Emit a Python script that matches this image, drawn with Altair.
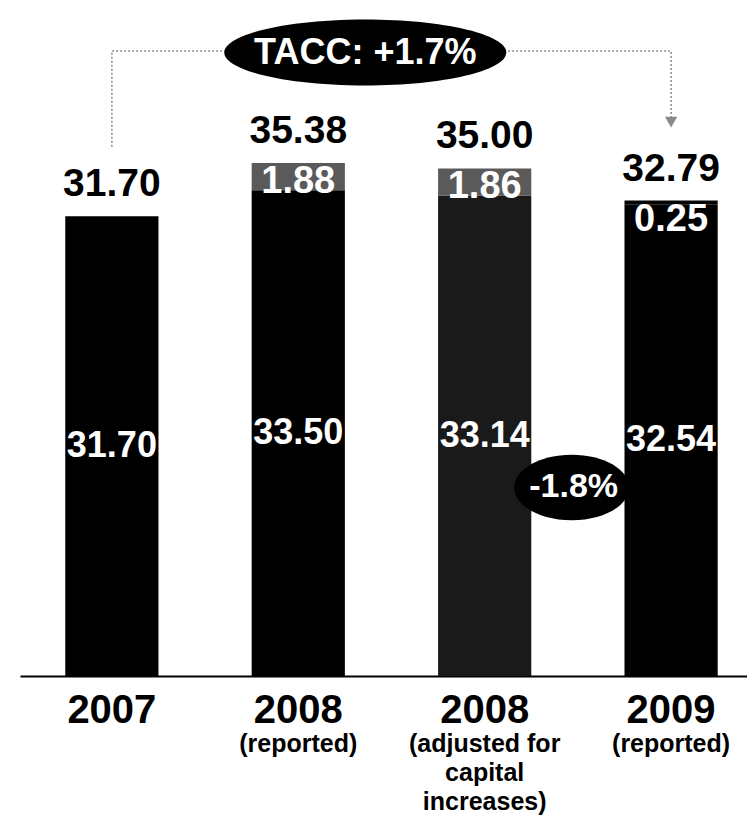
import altair as alt
import pandas as pd

# ---- data ----
cats = ["2007", "2008r", "2008a", "2009r"]
subtitles = ["", "(reported)", "(adjusted for\ncapital\nincreases)", "(reported)"]
base_vals = [31.70, 33.50, 33.14, 32.54]
top_vals = [0.0, 1.88, 1.86, 0.25]
totals = [31.70, 35.38, 35.00, 32.79]
base_colors = ["#000000", "#000000", "#1a1a1a", "#000000"]
top_colors = ["#000000", "#5a5a5a", "#5a5a5a", "#050505"]

tacc_label = "TACC: +1.7%"
delta_label = "-1.8%"
# connector path (category, level)
conn_cats = ["2007", "2007", "2009r", "2009r"]
conn_levels = [36.5, 43.1, 43.1, 38.4]
tacc_level = 43.0
delta_level = 13.0

FONT = "Liberation Sans, Arial, Helvetica, sans-serif"

df = pd.DataFrame({
    "cat": cats,
    "sub": subtitles,
    "base": base_vals,
    "top": top_vals,
    "total": totals,
    "bcolor": base_colors,
    "tcolor": top_colors,
})
df["mid"] = df["base"] / 2
df["top_lbl"] = [f"{v:.2f}" if v > 0 else "" for v in top_vals]
df["base_lbl"] = [f"{v:.2f}" for v in base_vals]
df["total_lbl"] = [f"{v:.2f}" for v in totals]
df["zero"] = 0.0

conn_df = pd.DataFrame({"cat": conn_cats, "lvl": conn_levels, "i": list(range(len(conn_cats)))})
tacc_df = pd.DataFrame({"cat": ["2008r"], "lvl": [tacc_level], "label": [tacc_label]})
delta_df = pd.DataFrame({"cat": ["2008a"], "lvl": [delta_level], "label": [delta_label]})
arrow_df = pd.DataFrame({"cat": ["2009r"], "lvl": [38.2]})

xscale = alt.Scale(domain=cats, paddingInner=0.5, paddingOuter=0.2, align=0.607)
yscale = alt.Scale(domain=[0, 46.62], nice=False, zero=True)

X = alt.X("cat:N", scale=xscale,
          axis=alt.Axis(title=None, labelExpr="substring(datum.value, 0, 4)",
                        labelFontSize=40, labelFont=FONT, labelFontWeight="bold",
                        labelColor="black", labelPadding=14, ticks=False, tickSize=0,
                        domainColor="black", domainWidth=2, labelAngle=0, grid=False))
Y = lambda f: alt.Y(f, scale=yscale, axis=None)

base = alt.Chart(df)

bars = base.mark_bar().encode(
    x=X, y=Y("base:Q"), y2="zero:Q",
    color=alt.Color("bcolor:N", scale=None),
)

tops = base.transform_filter("datum.top > 0").mark_bar().encode(
    x=X, y=Y("total:Q"), y2="base:Q",
    color=alt.Color("tcolor:N", scale=None),
)

total_text = base.mark_text(font=FONT, fontWeight="bold", fontSize=39, color="black",
                            baseline="alphabetic", dy=-20).encode(
    x=X, y=Y("total:Q"), text="total_lbl:N")

top_text = base.transform_filter("datum.top > 0").mark_text(
    font=FONT, fontWeight="bold", fontSize=38, color="white",
    baseline="alphabetic", dy=30).encode(
    x=X, y=Y("total:Q"), text="top_lbl:N")

base_text = base.mark_text(font=FONT, fontWeight="bold", fontSize=36, color="white",
                           baseline="middle").encode(
    x=X, y=Y("mid:Q"), text="base_lbl:N")

sub_text = base.mark_text(font=FONT, fontWeight="bold", fontSize=25, color="black",
                          baseline="top", lineBreak="\n", lineHeight=29, dy=56).encode(
    x=X, y=Y("zero:Q"), text="sub:N")

connector = alt.Chart(conn_df).mark_line(color="#8a8a8a", strokeWidth=1.5,
                                         strokeDash=[2, 2]).encode(
    x=X, y=Y("lvl:Q"), order="i:Q")

arrow = alt.Chart(arrow_df).mark_point(shape="triangle-down", filled=True,
                                       color="#8a8a8a", size=150, opacity=1).encode(
    x=X, y=Y("lvl:Q"))

ELL_WIDE = "M -1 0 A 1 0.234 0 1 0 1 0 A 1 0.234 0 1 0 -1 0 Z"
ELL_SMALL = "M -1 0 A 1 0.57 0 1 0 1 0 A 1 0.57 0 1 0 -1 0 Z"

tacc_ell = alt.Chart(tacc_df).mark_point(shape=ELL_WIDE, filled=True, color="black",
                                         size=79524, opacity=1, xOffset=67).encode(
    x=X, y=Y("lvl:Q"))
tacc_txt = alt.Chart(tacc_df).mark_text(font=FONT, fontWeight="bold", fontSize=36,
                                        color="white", baseline="middle", dx=67, dy=1).encode(
    x=X, y=Y("lvl:Q"), text="label:N")

delta_ell = alt.Chart(delta_df).mark_point(shape=ELL_SMALL, filled=True, color="black",
                                           size=13225, opacity=1, xOffset=87).encode(
    x=X, y=Y("lvl:Q"))
delta_txt = alt.Chart(delta_df).mark_text(font=FONT, fontWeight="bold", fontSize=34,
                                          color="white", baseline="middle", dx=89).encode(
    x=X, y=Y("lvl:Q"), text="label:N")

chart = alt.layer(
    bars, tops, connector, arrow, tacc_ell, tacc_txt, delta_ell,
    total_text, top_text, base_text, delta_txt, sub_text,
).properties(
    width=727, height=676,
    padding={"left": 20, "top": 0, "right": 0, "bottom": 0},
    background="white",
).configure_view(stroke=None)

chart.save("out.html", embed_options={"renderer": "svg", "actions": False})
